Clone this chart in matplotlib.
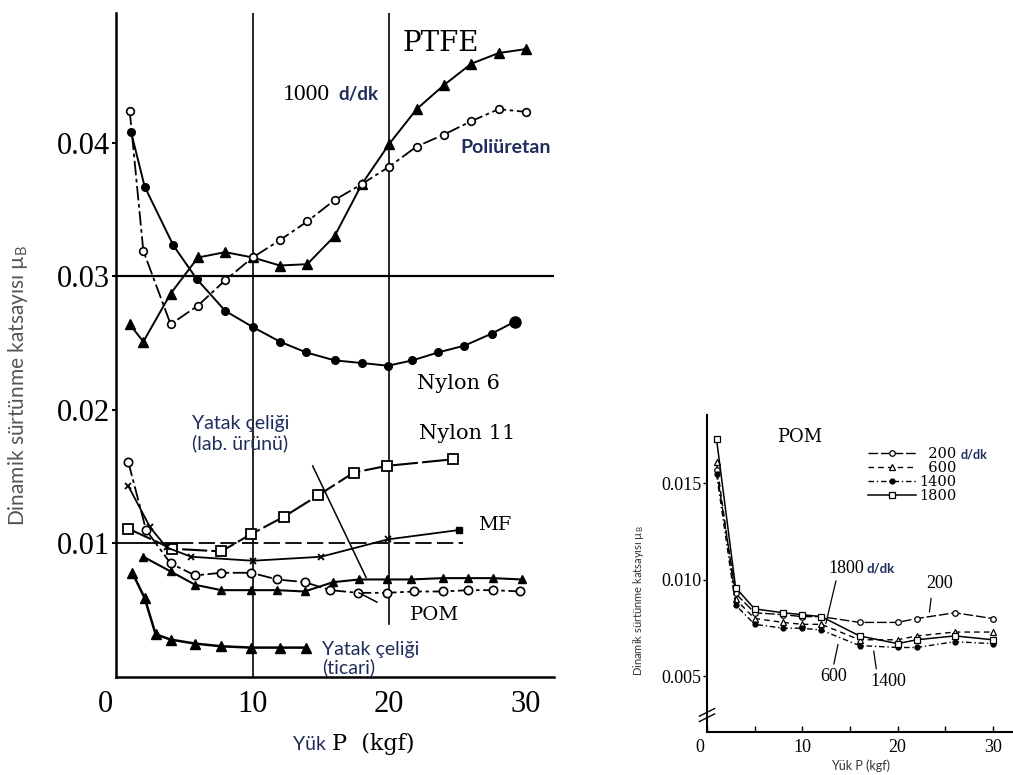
import numpy as np
import matplotlib
matplotlib.use('Agg')
import matplotlib.pyplot as plt
from matplotlib.transforms import ScaledTranslation

# ---- left panel data (1000 d/dk) ----
x_even = [1, 2, 4, 6, 8, 10, 12, 14, 16, 18, 20, 22, 24, 26, 28, 30]
ptfe = [0.0264, 0.0251, 0.0287, 0.0314, 0.0318, 0.0314, 0.0308, 0.0309,
        0.0330, 0.0369, 0.0399, 0.0425, 0.0443, 0.0459, 0.0467, 0.0470]
poliuretan = [0.0424, 0.0319, 0.0264, 0.0278, 0.0297, 0.0314, 0.0327, 0.0341,
              0.0357, 0.0369, 0.0382, 0.0397, 0.0406, 0.0416, 0.0425, 0.0423]
nylon6_x = [1.1, 2.1, 4.2, 5.9, 8.0, 10.0, 12.0, 13.9, 16.0, 18.0, 19.9, 21.7, 23.6, 25.5, 27.5, 29.2]
nylon6 = [0.0408, 0.0367, 0.0323, 0.0298, 0.0274, 0.0262, 0.0251, 0.0243,
          0.0237, 0.0235, 0.0233, 0.0237, 0.0243, 0.0248, 0.0257, 0.0266]
nylon11_x = [0.9, 4.1, 7.7, 9.9, 12.3, 14.8, 17.4, 19.8, 24.7]
nylon11 = [0.0111, 0.0096, 0.0094, 0.0107, 0.0120, 0.0136, 0.0153, 0.0158, 0.0163]
mf_x = [0.9, 2.5, 3.7, 5.5, 10.0, 15.0, 19.9, 25.1]
mf = [0.0143, 0.0112, 0.0097, 0.0090, 0.0087, 0.0090, 0.0103, 0.0110]
pom_x = [0.9, 2.2, 4.0, 5.8, 7.7, 9.9, 11.8, 13.8, 15.7, 17.7, 19.8, 21.8, 23.9, 25.8, 27.6, 29.6]
pom = [0.0161, 0.0110, 0.0085, 0.0076, 0.0078, 0.0078, 0.0073, 0.0071,
       0.0065, 0.0063, 0.0063, 0.0064, 0.0064, 0.0065, 0.0065, 0.0064]
celik_lab_x = [2.0, 4.0, 5.8, 7.7, 9.9, 11.8, 13.8, 15.9, 17.8, 19.8, 21.6, 23.9, 25.8, 27.6, 29.7]
celik_lab = [0.0090, 0.0079, 0.0069, 0.0065, 0.0065, 0.0065, 0.0064, 0.0071,
             0.0073, 0.0073, 0.0073, 0.0074, 0.0074, 0.0074, 0.0073]
celik_tic_x = [1.2, 2.1, 2.9, 4.0, 5.8, 7.7, 9.9, 12.0, 13.9]
celik_tic = [0.0078, 0.0059, 0.0032, 0.0028, 0.0025, 0.0023, 0.0022, 0.0022, 0.0022]

# ---- right panel data (POM, speeds) ----
x_pom = [1, 3, 5, 8, 10, 12, 16, 20, 22, 26, 30]
pom_200 = [0.0157, 0.0093, 0.0083, 0.0082, 0.0081, 0.0081, 0.0078, 0.0078, 0.0080, 0.0083, 0.0080]
pom_600 = [0.0161, 0.0090, 0.0080, 0.0078, 0.0077, 0.0077, 0.0069, 0.0069, 0.0071, 0.0073, 0.0073]
pom_1400 = [0.0155, 0.0087, 0.0077, 0.0075, 0.0075, 0.0074, 0.0066, 0.0065, 0.0065, 0.0068, 0.0067]
pom_1800 = [0.0173, 0.0096, 0.0085, 0.0083, 0.0082, 0.0081, 0.0071, 0.0067, 0.0069, 0.0071, 0.0069]
speed_labels = ['  200', '  600', '1400', '1800']

left_yticks = [0.01, 0.02, 0.03, 0.04]
left_xticks = [0, 10, 20, 30]
right_yticks = [0.005, 0.010, 0.015]

NAVY = '#1f2d5c'
SERIF = 'Liberation Serif'
TYPE = 'DejaVu Serif'
SANS = ['Lato', 'DejaVu Sans']

W, H = 1013, 775
fig = plt.figure(figsize=(W / 100, H / 100), dpi=100)


def nudge(label, dx_px):
    # shift a tick label sideways by some pixels
    label.set_transform(label.get_transform() +
                        ScaledTranslation(dx_px / 100, 0, fig.dpi_scale_trans))


# ================= left panel =================
ax = fig.add_axes([116 / W, (H - 677) / H, 438 / W, 664 / H])
ax.set_xlim(0, 32.06)
ax.set_ylim(0, 0.0497)
for s in ['top', 'right']:
    ax.spines[s].set_visible(False)
for s in ['left', 'bottom']:
    ax.spines[s].set_linewidth(1.8)

# reference lines
ax.axhline(0.03, color='black', lw=1.6)
ax.plot([0, 4.5], [0.01, 0.01], color='black', lw=1.3)
ax.plot([4.5, 25.4], [0.01, 0.01], color='black', lw=1.3, ls=(0, (9, 3)))
ax.axvline(10, color='black', lw=1.2)
ax.axvline(20, ymin=0.004 / 0.0497, color='black', lw=1.2)

ax.plot(x_even, ptfe, color='black', lw=1.4, marker='^', ms=6.5)
ax.plot(x_even, poliuretan, color='black', lw=1.3, ls=(0, (8, 2, 2, 2)),
        marker='o', ms=5.5, mfc='white', mew=1.2)
ax.plot(nylon6_x, nylon6, color='black', lw=1.4, marker='o', ms=5.5)
ax.plot(nylon6_x[-1:], nylon6[-1:], color='black', marker='o', ms=8, ls='none')
ax.plot(nylon11_x, nylon11, color='black', lw=1.5, ls=(0, (12, 2)),
        marker='s', ms=7, mfc='white', mew=1.3)
ax.plot(mf_x, mf, color='black', lw=1.3)
ax.plot(mf_x[:-1], mf[:-1], ls='none', color='black', marker='x', ms=5, mew=1.3)
ax.plot(mf_x[-1:], mf[-1:], ls='none', color='black', marker='s', ms=5)
ax.plot(pom_x, pom, color='black', lw=1.3, ls=(0, (8, 2, 2, 2)),
        marker='o', ms=6, mfc='white', mew=1.2)
ax.plot(celik_lab_x, celik_lab, color='black', lw=1.5, marker='^', ms=6)
ax.plot(celik_tic_x, celik_tic, color='black', lw=1.8, marker='^', ms=6.5)

ax.set_yticks(left_yticks, labels=['0.01', '0.02', '0.03', '0.04'])
ax.set_xticks(left_xticks, labels=[str(v) for v in left_xticks])
ax.tick_params(axis='y', direction='out', length=3, width=1.5, pad=1)
ax.tick_params(axis='x', length=0, pad=9)
for lab in ax.get_xticklabels() + ax.get_yticklabels():
    lab.set_fontfamily(SERIF)
    lab.set_fontsize(22)
nudge(ax.get_xticklabels()[0], -11)

ax.text(21.0, 0.0474, 'PTFE', family=TYPE, fontsize=20, va='center')
ax.text(12.2, 0.0436, '1000', family=SERIF, fontsize=17, va='center')
ax.text(16.25, 0.0436, 'd/dk', family=SANS, fontsize=13.5, weight='bold',
        color=NAVY, va='center')
ax.text(25.2, 0.0396, 'Poliüretan', family=SANS, fontsize=14, weight='bold',
        color=NAVY, va='center')
ax.text(22.0, 0.0220, 'Nylon 6', family=TYPE, fontsize=15, va='center')
ax.text(22.2, 0.0182, 'Nylon 11', family=TYPE, fontsize=15, va='center')
ax.text(26.5, 0.0114, 'MF', family=TYPE, fontsize=14, va='center')
ax.text(21.5, 0.00464, 'POM', family=TYPE, fontsize=14, va='center')
ax.text(5.56, 0.0182, 'Yatak çeliği\n(lab. ürünü)', family=SANS, fontsize=14,
        color=NAVY, va='center', linespacing=1.15)
ax.text(15.1, 0.00138, 'Yatak çeliği\n(ticari)', family=SANS, fontsize=14,
        color=NAVY, va='center', linespacing=1.0)
ax.annotate('', xy=(18.4, 0.00725), xytext=(14.3, 0.0160),
            arrowprops=dict(arrowstyle='-', lw=1.1, color='black'))
ax.annotate('', xy=(17.6, 0.0064), xytext=(19.3, 0.0055),
            arrowprops=dict(arrowstyle='-', lw=1.1, color='black'))

fig.text(18 / W, 1 - 385 / H, 'Dinamik sürtünme katsayısı µ$_\\mathregular{B}$',
         rotation=90, ha='center', va='center', family=SANS, fontsize=15,
         color='#555555')
fig.text(293 / W, 1 - 744 / H, 'Yük', family=SANS, fontsize=14, color=NAVY,
         va='center')
fig.text(332 / W, 1 - 744 / H, 'P  (kgf)', family=TYPE, fontsize=16, va='center')

# ================= right panel =================
ax2 = fig.add_axes([707 / W, (H - 732) / H, 305 / W, 317 / H])
ax2.set_xlim(0, 32.0)
ax2.set_ylim(0.00212, 0.01855)
for s in ['top', 'right']:
    ax2.spines[s].set_visible(False)
for s in ['left', 'bottom']:
    ax2.spines[s].set_linewidth(1.5)

l200, = ax2.plot(x_pom, pom_200, color='black', lw=1.0, ls=(0, (7, 2)),
                 marker='o', ms=4, mfc='white', mew=0.9)
l600, = ax2.plot(x_pom, pom_600, color='black', lw=1.0, ls=(0, (4, 3)),
                 marker='^', ms=4, mfc='white', mew=0.9)
l1400, = ax2.plot(x_pom, pom_1400, color='black', lw=1.0, ls=(0, (4, 2, 1, 2)),
                  marker='o', ms=3.5)
l1800, = ax2.plot(x_pom, pom_1800, color='black', lw=1.1,
                  marker='s', ms=4, mfc='white', mew=0.9)

ax2.set_xticks([0, 10, 20, 30], labels=['0', '10', '20', '30'])
ax2.set_xticks([5, 15, 25], minor=True)
ax2.set_yticks(right_yticks, labels=['0.005', '0.010', '0.015'])
ax2.tick_params(axis='x', which='both', direction='in', length=4, width=1.0, pad=5)
ax2.tick_params(axis='y', direction='out', length=3, width=1.0, pad=1)
for lab in ax2.get_xticklabels() + ax2.get_yticklabels():
    lab.set_fontfamily(SERIF)
    lab.set_fontsize(13)
nudge(ax2.get_xticklabels()[0], -7)

# axis break mark on the y axis
for yb in [0.045, 0.062]:
    ax2.plot([-0.025, 0.025], [yb - 0.012, yb + 0.012], transform=ax2.transAxes,
             color='black', lw=1.0, clip_on=False)

ax2.legend([l200, l600, l1400, l1800], speed_labels, loc='upper left',
           bbox_to_anchor=(868 / W, 1 - 447 / H), bbox_transform=fig.transFigure,
           frameon=False, handlelength=3.3, handletextpad=0.2, labelspacing=0.0,
           borderpad=0, borderaxespad=0, prop={'family': TYPE, 'size': 10.5})
fig.text(961 / W, 1 - 455 / H, 'd/dk', family=SANS, fontsize=9, weight='bold',
         color=NAVY, va='center')

ax2.text(9.75, 0.01743, 'POM', family=TYPE, fontsize=13, ha='center', va='center')
ax2.text(12.7, 0.01062, '1800', family=SERIF, fontsize=13, va='center')
ax2.text(16.7, 0.01060, 'd/dk', family=SANS, fontsize=9.5, weight='bold',
         color=NAVY, va='center')
ax2.text(24.4, 0.00982, '200', family=SERIF, fontsize=13, ha='center', va='center')
ax2.text(13.3, 0.00499, '600', family=SERIF, fontsize=13, ha='center', va='center')
ax2.text(19.0, 0.00473, '1400', family=SERIF, fontsize=13, ha='center', va='center')
for (x0, y0), (x1, y1) in [((13.6, 0.0101), (12.4, 0.0076)),
                           ((23.55, 0.0092), (23.3, 0.0082)),
                           ((13.25, 0.0055), (13.8, 0.0068)),
                           ((17.8, 0.00525), (17.45, 0.00646))]:
    ax2.annotate('', xy=(x1, y1), xytext=(x0, y0),
                 arrowprops=dict(arrowstyle='-', lw=0.9, color='black'))

fig.text(638 / W, 1 - 601 / H, 'Dinamik sürtünme katsayısı µ$_\\mathregular{B}$',
         rotation=90, ha='center', va='center', family=SANS, fontsize=8,
         color='#333333')
fig.text(861 / W, 1 - 766 / H, 'Yük P (kgf)', family=SANS, fontsize=9,
         color='#333333', ha='center', va='center')

fig.savefig('out.png', dpi=100)
